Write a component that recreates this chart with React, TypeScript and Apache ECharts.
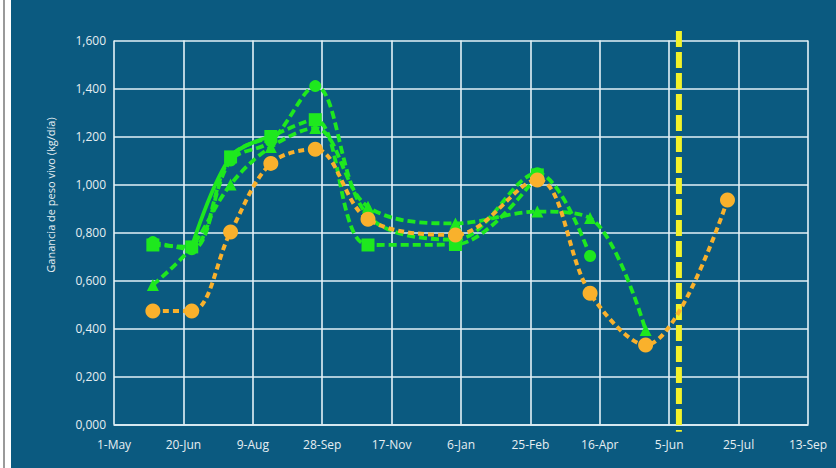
import React, { useEffect, useRef } from "react";
import * as echarts from "echarts";

// x axis: days counted from 1-May, one tick every 50 days
const xTickLabels = ["1-May", "20-Jun", "9-Aug", "28-Sep", "17-Nov", "6-Jan", "25-Feb", "16-Apr", "5-Jun", "25-Jul", "13-Sep"];
const yAxisTitle = "Ganancia de peso vivo (kg/día)";

// orange series (dashed, circles)
const orangeDays = [28, 56, 84, 113, 145, 183, 246, 305, 343, 383, 442];
const orangeValues = [0.473, 0.473, 0.802, 1.088, 1.147, 0.855, 0.79, 1.019, 0.547, 0.331, 0.935];

// green series with circles (dashed)
const circleDays = [28, 56, 84, 113, 145, 183, 246, 305, 343];
const circleValues = [0.76, 0.73, 1.1, 1.18, 1.41, 0.87, 0.77, 1.047, 0.702];

// green series with squares (dashed)
const squareDays = [28, 56, 84, 113, 145, 183, 246, 305];
const squareValues = [0.748, 0.74, 1.115, 1.2, 1.27, 0.748, 0.75, 1.04];

// green series with triangles (dashed)
const triangleDays = [28, 56, 84, 113, 145, 183, 246, 305, 343, 383];
const triangleValues = [0.581, 0.74, 1.0, 1.156, 1.235, 0.907, 0.838, 0.887, 0.86, 0.394];

// green solid segment
const solidDays = [56, 84, 113];
const solidValues = [0.74, 1.115, 1.2];

// yellow vertical marker
const markerDay = 407;
const markerRange = [1.64, -0.03];

const zip = (xs: number[], ys: number[]) => xs.map((x, i) => [x, ys[i]]);

const GREEN = "#1ee81e";
const ORANGE = "#f9b12c";
const GRID = "#e4f2f7";
const TEXT = "#e6eef2";

export default function App() {
  const ref = useRef<HTMLDivElement>(null);
  useEffect(() => {
    if (!ref.current) return;
    const chart = echarts.init(ref.current, null, { renderer: "svg" });
    const greenDashed = (name: string, data: number[][], symbol: string, size: number) => ({
      name,
      type: "line",
      data,
      smooth: 0.35,
      symbol,
      symbolSize: size,
      itemStyle: { color: GREEN },
      lineStyle: { color: GREEN, width: 3.8, type: [8, 4] },
      z: 3,
    });
    chart.setOption({
      animation: false,
      backgroundColor: "transparent",
      textStyle: { fontFamily: "Open Sans" },
      grid: { left: 114, right: 28, top: 40.5, bottom: 43.5 },
      xAxis: {
        type: "value",
        min: 0,
        max: 500,
        interval: 50,
        axisLine: { show: true, lineStyle: { color: GRID, width: 1.6 } },
        axisTick: { show: false },
        splitLine: { show: true, lineStyle: { color: GRID, width: 1.6 } },
        axisLabel: {
          color: TEXT,
          fontSize: 12,
          margin: 14,
          formatter: (v: number) => xTickLabels[Math.round(v / 50)] ?? "",
        },
      },
      yAxis: {
        type: "value",
        min: 0,
        max: 1.6,
        interval: 0.2,
        axisLine: { show: false },
        axisTick: { show: false },
        splitLine: { show: true, lineStyle: { color: GRID, width: 1.6 } },
        axisLabel: {
          color: TEXT,
          fontSize: 12,
          margin: 8,
          formatter: (v: number) => v.toFixed(3).replace(".", ","),
        },
      },
      graphic: [
        {
          type: "text",
          x: 50,
          y: 195,
          rotation: Math.PI / 2,
          style: {
            text: yAxisTitle,
            fill: TEXT,
            font: "11px 'Open Sans'",
            textAlign: "center",
            textVerticalAlign: "middle",
          },
        },
      ],
      series: [
        {
          name: "marker",
          type: "line",
          data: [[markerDay, markerRange[0]], [markerDay, markerRange[1]]],
          showSymbol: false,
          symbol: "none",
          clip: false,
          lineStyle: { color: "#f2f22a", width: 6, type: [16, 5] },
          z: 2,
        },
        greenDashed("Círculos", zip(circleDays, circleValues), "circle", 12),
        greenDashed("Triángulos", zip(triangleDays, triangleValues), "triangle", 12),
        greenDashed("Cuadrados", zip(squareDays, squareValues), "rect", 13),
        {
          name: "Continua",
          type: "line",
          data: zip(solidDays, solidValues),
          smooth: 0.35,
          symbol: "none",
          lineStyle: { color: GREEN, width: 3.8 },
          z: 3,
        },
        {
          name: "Naranja",
          type: "line",
          data: zip(orangeDays, orangeValues),
          smooth: 0.35,
          symbol: "circle",
          symbolSize: 15,
          itemStyle: { color: ORANGE },
          lineStyle: { color: ORANGE, width: 4, type: [6, 4] },
          z: 4,
        },
      ],
    });
    return () => chart.dispose();
  }, []);
  return (
    <div style={{ position: "fixed", left: 0, top: 0, width: 836, height: 468, background: "#ffffff", overflow: "hidden" }}>
      <div style={{ position: "absolute", left: 3, top: 0, width: 1.5, height: 468, background: "#9a9a9a" }} />
      <div style={{ position: "absolute", left: 11, top: 0, width: 825, height: 468, background: "#0b5a80" }} />
      <div ref={ref} style={{ position: "absolute", left: 0, top: 0, width: 836, height: 468 }} />
    </div>
  );
}
